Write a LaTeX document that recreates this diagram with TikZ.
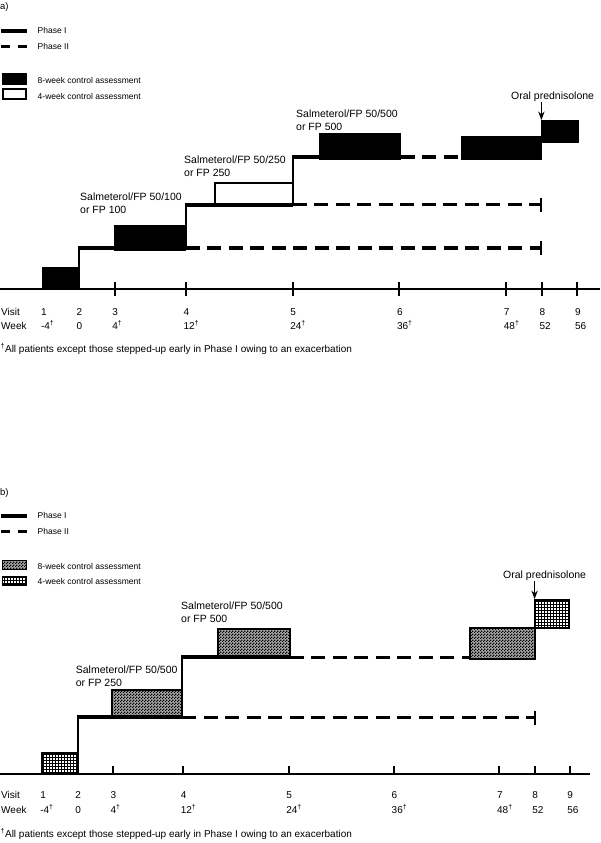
\documentclass[tikz,border=0pt]{standalone}
\usepackage{fontspec}
\setmainfont{Liberation Sans}
\usetikzlibrary{arrows.meta, patterns}

\pgfdeclarepatternformonly{finechecker}{\pgfpointorigin}{\pgfpoint{3pt}{3pt}}{\pgfpoint{3pt}{3pt}}{%
  \pgfpathrectangle{\pgfpointorigin}{\pgfpoint{1.5pt}{1.5pt}}%
  \pgfpathrectangle{\pgfpoint{1.5pt}{1.5pt}}{\pgfpoint{1.5pt}{1.5pt}}%
  \pgfusepath{fill}}
\pgfdeclarepatternformonly{finegrid}{\pgfpoint{-0.1pt}{-0.1pt}}{\pgfpoint{3.1pt}{3.1pt}}{\pgfpoint{3pt}{3pt}}{%
  \pgfsetlinewidth{0.9pt}%
  \pgfpathmoveto{\pgfpoint{0pt}{1.5pt}}\pgfpathlineto{\pgfpoint{3.1pt}{1.5pt}}%
  \pgfpathmoveto{\pgfpoint{1.5pt}{0pt}}\pgfpathlineto{\pgfpoint{1.5pt}{3.1pt}}%
  \pgfusepath{stroke}}
\newcommand{\wkdag}{\textsuperscript{\textdagger}}

\begin{document}
\begin{tikzpicture}[>=Stealth, x=1pt, y=-1pt,
  phaseone/.style={line width=4pt},
  phasetwo/.style={line width=3.3pt, dash pattern=on 14pt off 7.5pt},
  riser/.style={line width=2pt},
  axisline/.style={line width=2pt},
  blackbox/.style={draw, line width=1.5pt, fill=black},
  whitebox/.style={draw, line width=2pt, fill=white},
  checkbox/.style={draw, line width=2pt, preaction={fill=black!35}, pattern=finechecker},
  gridbox/.style={draw, line width=2pt, pattern=finegrid},
  paneltext/.style={anchor=base west, inner sep=0pt, font=\fontsize{9.5}{11}\selectfont},
  legtext/.style={anchor=base west, inner sep=0pt, font=\fontsize{8.5}{10}\selectfont},
  druglabel/.style={anchor=base west, inner sep=0pt, align=left, font=\fontsize{10.5}{12.5}\selectfont},
  axislabel/.style={anchor=base west, inner sep=0pt, font=\fontsize{10}{12}\selectfont},
  pointer/.style={->, line width=1.2pt}]
  \useasboundingbox (0,0) rectangle (600,843);

  % ---------- a) ----------
  \node[paneltext] (pa) at (0,9.5) {a)};
  % Legend
  \draw[phaseone] (1,30.7) -- (27,30.7);
  \node[legtext] (la1) at (37.5,33.8) {Phase I};
  \draw[phaseone, line width=3.3pt, dash pattern=on 9pt off 8pt] (1,46.7) -- (27,46.7);
  \node[legtext] (la2) at (37.5,49.8) {Phase II};
  \draw[blackbox] (2.5,73.5) rectangle (26.5,84.5);
  \node[legtext] (la3) at (37.5,83) {8-week control assessment};
  \draw[whitebox] (2.7,88.5) rectangle (26.3,99);
  \node[legtext] (la4) at (37.5,99.5) {4-week control assessment};

  % Timeline
  \draw[axisline] (0,289.3) -- (600,289.3);
  \foreach \wk in {4,12,24,36,48,52,56}
    \draw[axisline] ({79+8.9*\wk},282) -- ({79+8.9*\wk},296);
  \node[axislabel] (visa) at (1,315.3) {Visit};
  \node[axislabel] (weeka) at (1,329.3) {Week};
  \foreach \v/\wk/\dg in {1/-4/\wkdag, 2/0/{}, 3/4/\wkdag, 4/12/\wkdag, 5/24/\wkdag,
                           6/36/\wkdag, 7/48/\wkdag, 8/52/{}, 9/56/{}} {
    \node[axislabel] (va\v) at ({76.5+8.9*\wk},315.3) {\v};
    \node[axislabel] (wa\v) at ({76.5+8.9*\wk},329.3) {\wk\dg};
  }
  \node[axislabel] (nota) at (0.5,352.6) {\wkdag All patients except those stepped-up early in Phase I owing to an exacerbation};

  % Steps
  \draw[blackbox] (43,268) rectangle (79,289.3);
  \draw[riser] (79,289.3) -- (79,246);
  \draw[blackbox] (114.6,226) rectangle (185.7,250);
  \draw[phaseone] (78,248) -- (185.7,248);
  \draw[phasetwo] (185.7,248) -- (541.4,248);
  \draw[riser] (541.4,241) -- (541.4,255);
  \draw[riser] (185.7,248) -- (185.7,202.5);
  \draw[whitebox] (214.5,182.5) rectangle (292.6,204.5);
  \draw[phaseone] (184.7,204.5) -- (292.6,204.5);
  \draw[phasetwo] (292.6,204.5) -- (541.4,204.5);
  \draw[riser] (541.4,197.5) -- (541.4,211.5);
  \draw[riser] (292.6,204.5) -- (292.6,155);
  \draw[blackbox] (320,133.5) rectangle (400.5,159);
  \draw[phaseone] (291.6,157) -- (400.5,157);
  \draw[phasetwo] (400.5,157) -- (462,157);
  \draw[blackbox] (462,137) rectangle (541.4,159);
  \draw[blackbox] (541.4,120.5) rectangle (578,142.3);

  % Doses
  \node[druglabel] (da1) at (80,213.3) {Salmeterol/FP 50/100\\or FP 100};
  \node[druglabel] (da2) at (184,176.3) {Salmeterol/FP 50/250\\or FP 250};
  \node[druglabel] (da3) at (296,130.3) {Salmeterol/FP 50/500\\or FP 500};
  \node[druglabel] (preda) at (511,99.8) {Oral prednisolone};
  \coordinate (tipa) at (541.4,120);
  \draw[pointer] (preda.south -| tipa) -- (tipa);

  % ---------- b) ----------
  \node[paneltext] (pb) at (0,495.8) {b)};
  % Legend
  \draw[phaseone] (1,515.5) -- (27,515.5);
  \node[legtext] (lb1) at (37.5,518.6) {Phase I};
  \draw[phaseone, line width=3.3pt, dash pattern=on 9pt off 8pt] (1,531.7) -- (27,531.7);
  \node[legtext] (lb2) at (37.5,534.8) {Phase II};
  \draw[checkbox, line width=1.5pt] (2.5,560.5) rectangle (26.5,569.5);
  \node[legtext] (lb3) at (37.5,569.1) {8-week control assessment};
  \draw[gridbox, line width=1.5pt] (2.5,577) rectangle (26.5,585);
  \node[legtext] (lb4) at (37.5,584.8) {4-week control assessment};

  % Timeline
  \draw[axisline] (0,773.7) -- (590,773.7);
  \foreach \wk in {4,12,24,36,48,52,56}
    \draw[axisline] ({77.7+8.786*\wk},766) -- ({77.7+8.786*\wk},773.7);
  \node[axislabel] (visb) at (1,798.9) {Visit};
  \node[axislabel] (weekb) at (1,813.6) {Week};
  \foreach \v/\wk/\dg in {1/-4/\wkdag, 2/0/{}, 3/4/\wkdag, 4/12/\wkdag, 5/24/\wkdag,
                           6/36/\wkdag, 7/48/\wkdag, 8/52/{}, 9/56/{}} {
    \node[axislabel] (vb\v) at ({75.2+8.786*\wk},798.9) {\v};
    \node[axislabel] (wb\v) at ({75.2+8.786*\wk},813.6) {\wk\dg};
  }
  \node[axislabel] (notb) at (0.5,837.3) {\wkdag All patients except those stepped-up early in Phase I owing to an exacerbation};

  % Steps
  \draw[gridbox] (41.5,752.5) rectangle (77.7,773.7);
  \draw[riser] (77.7,773.7) -- (77.7,715);
  \draw[checkbox] (111.5,689.5) rectangle (182.3,718);
  \draw[phaseone] (76.7,717) -- (182.3,717);
  \draw[phasetwo] (182.3,717.5) -- (534.6,717.5);
  \draw[riser] (534.6,710.5) -- (534.6,724.5);
  \draw[riser] (182.3,717) -- (182.3,655);
  \draw[checkbox] (217.5,628.5) rectangle (289.5,658);
  \draw[phaseone] (181.3,657) -- (289.5,657);
  \draw[phasetwo] (289.5,657.5) -- (469.5,657.5);
  \draw[checkbox] (469.5,627.5) rectangle (534.6,659);
  \draw[gridbox] (534.6,599.5) rectangle (569.4,627.5);

  % Doses
  \node[druglabel] (db1) at (75.7,686.3) {Salmeterol/FP 50/500\\or FP 250};
  \node[druglabel] (db2) at (181,622) {Salmeterol/FP 50/500\\or FP 500};
  \node[druglabel] (predb) at (503,578.8) {Oral prednisolone};
  \coordinate (tipb) at (534.6,599);
  \draw[pointer] (predb.south -| tipb) -- (tipb);
\end{tikzpicture}
\end{document}
